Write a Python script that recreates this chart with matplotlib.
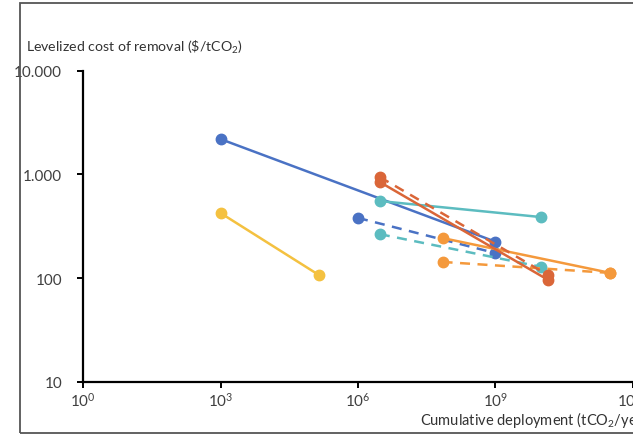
import matplotlib
matplotlib.use("Agg")
import matplotlib.pyplot as plt
from matplotlib.patches import Rectangle
from matplotlib.ticker import FixedLocator, FixedFormatter, NullLocator

plt.rcParams['font.family'] = ['Lato', 'DejaVu Sans']
plt.rcParams['mathtext.fontset'] = 'custom'
plt.rcParams['mathtext.rm'] = 'Lato'
plt.rcParams['mathtext.it'] = 'Lato:italic'

# Cumulative deployment (tCO2/year) and levelized cost ($/tCO2) for each pathway
blue_x = [1e3, 1e9]
blue_y = [2190, 224]
blue_dash_x = [1e6, 1e9]
blue_dash_y = [380, 174]

red_x = [3e6, 1.4e10]
red_y = [843, 96]
red_dash_x = [3e6, 1.4e10]
red_dash_y = [942, 107]

teal_x = [3e6, 1e10]
teal_y = [553, 387]
teal_dash_x = [3e6, 1e10]
teal_dash_y = [265, 128]

orange_x = [7e7, 3.2e11]
orange_y = [243, 112]
orange_dash_x = [7e7, 3.2e11]
orange_dash_y = [143, 112]

yellow_x = [1e3, 1.4e5]
yellow_y = [424, 107]

x_ticks = [1e0, 1e3, 1e6, 1e9, 1e12]
x_labels = ['$10^{0}$', '$10^{3}$', '$10^{6}$', '$10^{9}$', '$10^{12}$']
y_ticks = [10, 100, 1000, 10000]
y_labels = ['10', '100', '1.000', '10.000']

blue = '#4a72c4'
red = '#da6638'
teal = '#5cbcc0'
orange = '#f4993c'
yellow = '#f4c140'

fig = plt.figure(figsize=(6.33, 4.35), dpi=100)
ax = fig.add_axes([83 / 633, 52.3 / 435, 1 - 83 / 633, 311 / 435])

lw = 1.8
ms = 7.5
ax.plot(blue_x, blue_y, '-o', color=blue, lw=lw, ms=ms)
ax.plot(blue_dash_x, blue_dash_y, '--o', color=blue, lw=lw, ms=ms, dashes=(4, 3))
ax.plot(teal_x, teal_y, '-o', color=teal, lw=lw, ms=ms)
ax.plot(teal_dash_x, teal_dash_y, '--o', color=teal, lw=lw, ms=ms, dashes=(4, 3))
ax.plot(orange_x, orange_y, '-o', color=orange, lw=lw, ms=ms)
ax.plot(orange_dash_x, orange_dash_y, '--o', color=orange, lw=lw, ms=ms, dashes=(4, 3))
ax.plot(red_x, red_y, '-o', color=red, lw=lw, ms=ms)
ax.plot(red_dash_x, red_dash_y, '--o', color=red, lw=lw, ms=ms, dashes=(4, 3))
ax.plot(yellow_x, yellow_y, '-o', color=yellow, lw=lw, ms=ms)

ax.set_xscale('log')
ax.set_yscale('log')
ax.set_xlim(1e0, 1e12)
ax.set_ylim(10, 10000)

ax.xaxis.set_major_locator(FixedLocator(x_ticks))
ax.xaxis.set_major_formatter(FixedFormatter(x_labels))
ax.yaxis.set_major_locator(FixedLocator(y_ticks))
ax.yaxis.set_major_formatter(FixedFormatter(y_labels))
ax.xaxis.set_minor_locator(NullLocator())
ax.yaxis.set_minor_locator(NullLocator())

for side in ['top', 'right']:
    ax.spines[side].set_visible(False)
for side in ['left', 'bottom']:
    ax.spines[side].set_linewidth(1.6)
    ax.spines[side].set_color('black')
ax.tick_params(axis='both', direction='out', length=4, width=1.4,
               labelsize=11, labelcolor='#404040')
ax.tick_params(axis='y', pad=11)
ax.tick_params(axis='x', pad=2.5)

fig.text(26 / 633, 1 - 47 / 435, r'Levelized cost of removal (\$/tCO$_2$)',
         fontsize=10.2, color='#333333', va='center', ha='left')
fig.text(420 / 633, 1 - 420 / 435, 'Cumulative deployment (tCO$_2$/year)',
         fontsize=10.5, color='#333333', va='center', ha='left')

fig.patches.append(Rectangle((20 / 633, 1 / 435), 1.2, 430 / 435,
                             transform=fig.transFigure, fill=False,
                             edgecolor='#555555', lw=1.3))

fig.savefig('out.png', dpi=100)
